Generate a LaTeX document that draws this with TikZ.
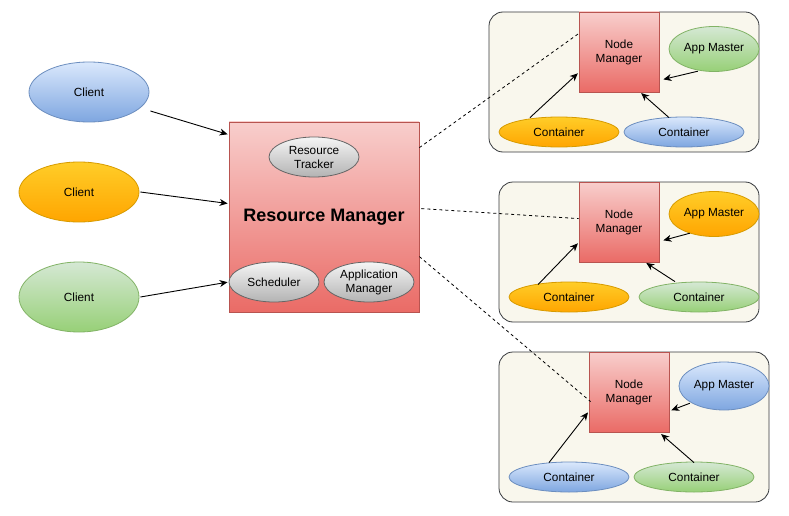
\documentclass[tikz,border=0pt]{standalone}
\usepackage{fontspec}
\setmainfont{Liberation Sans}
\usetikzlibrary{shapes.geometric,arrows.meta}
\definecolor{bluetop}{HTML}{DAE8FC}\definecolor{bluebot}{HTML}{7EA6E0}\definecolor{bluestroke}{HTML}{6C8EBF}
\definecolor{ortop}{HTML}{FFCD28}\definecolor{orbot}{HTML}{FFA500}\definecolor{orstroke}{HTML}{D79B00}
\definecolor{grtop}{HTML}{D5E8D4}\definecolor{grbot}{HTML}{97D077}\definecolor{grstroke}{HTML}{82B366}
\definecolor{redtop}{HTML}{F8CECC}\definecolor{redbot}{HTML}{EA6B66}\definecolor{redstroke}{HTML}{B85450}
\definecolor{gytop}{HTML}{F5F5F5}\definecolor{gybot}{HTML}{B3B3B3}\definecolor{gystroke}{HTML}{666666}
\definecolor{grpfill}{HTML}{F9F7ED}\definecolor{grpstroke}{HTML}{36393D}
\begin{document}
\begin{tikzpicture}[x=1pt,y=-1pt,
  every node/.style={font=\fontsize{11.8}{14}\selectfont, align=center, inner sep=0pt},
  ell/.style={ellipse, line width=0.8pt},
  blueell/.style={ell, draw=bluestroke, top color=bluetop, bottom color=bluebot},
  orell/.style={ell, draw=orstroke, top color=ortop, bottom color=orbot},
  grell/.style={ell, draw=grstroke, top color=grtop, bottom color=grbot},
  gyell/.style={ell, draw=gystroke, top color=gytop, bottom color=gybot, minimum width=90pt, minimum height=40pt},
  client/.style={minimum width=120pt},
  cont/.style={minimum width=120pt, minimum height=30pt},
  am/.style={minimum width=90pt},
  redbox/.style={rectangle, draw=redstroke, line width=0.8pt, top color=redtop, bottom color=redbot},
  nm/.style={redbox, minimum width=80pt, minimum height=80pt},
  grp/.style={draw=grpstroke, fill=grpfill, rounded corners=14pt, line width=0.8pt},
  arr/.style={-{Stealth[length=8pt,width=7pt,inset=2.5pt]}, line width=0.9pt, shorten >=1pt},
  dashline/.style={line width=0.8pt, dash pattern=on 3pt off 3pt}
]
\useasboundingbox (0,0) rectangle (789,516);
\fill[white] (0,0) rectangle (789,516);

% groups
\draw[grp] (489,12) rectangle (759,152);
\draw[grp] (499,182) rectangle (759,322);
\draw[grp] (499,352) rectangle (769,502);

% clients
\node[blueell, client, minimum height=60pt] (c1) at (89,92) {Client};
\node[orell, client, minimum height=60pt] (c2) at (79,192) {Client};
\node[grell, client, minimum height=70pt] (c3) at (79,297) {Client};

% resource manager
\node[redbox, minimum width=190pt, minimum height=190pt] (rm) at (324,217) {};
\node[font=\fontsize{18}{21}\selectfont\bfseries] (rmt) at (324,217) {Resource Manager};
\node[gyell] (rt) at (314,157) {Resource\\Tracker};
\node[gyell] (sch) at (274,282) {Scheduler};
\node[gyell] (apm) at (369,282) {Application\\Manager};

% group 1
\node[nm] (nm1) at (619,52) {Node\\Manager};
\node[grell, am, minimum height=45pt] (am1) at (714,49) {App Master};
\node[orell, cont] (k1a) at (559,132) {Container};
\node[blueell, cont] (k1b) at (684,132) {Container};

% group 2
\node[nm] (nm2) at (619,222) {Node\\Manager};
\node[orell, am, minimum height=45pt] (am2) at (714,214) {App Master};
\node[orell, cont] (k2a) at (569,297) {Container};
\node[grell, cont] (k2b) at (699,297) {Container};

% group 3
\node[nm] (nm3) at (629,392) {Node\\Manager};
\node[blueell, am, minimum height=48pt] (am3) at (724,386) {App Master};
\node[blueell, cont] (k3a) at (569,477) {Container};
\node[grell, cont] (k3b) at (694,477) {Container};

% client arrows
\draw[arr] ([xshift=1pt,yshift=-19pt]c1.east) -- ([yshift=-13pt]rm.north west);
\draw[arr] ([xshift=1pt]c2.east) -- ([yshift=-82pt]rm.north west);
\draw[arr] ([xshift=1pt]c3.east) -- (sch.west);

% dashed lines
\draw[dashline] ([yshift=-26pt]rm.north east) -- ([yshift=-22pt]nm1.north west);
\draw[dashline] ([yshift=-87pt,xshift=2pt]rm.north east) -- ([yshift=-37pt]nm2.north west);
\draw[dashline] ([yshift=-135pt]rm.north east) -- ([yshift=-50pt,xshift=2pt]nm3.north west);

% inner arrows group 1
\draw[arr] ([xshift=-29pt,yshift=-1pt]k1a.north) -- ([yshift=-61pt]nm1.north west);
\draw[arr] ([xshift=-15pt,yshift=-1pt]k1b.north) -- ([xshift=-19pt]nm1.south east);
\draw[arr] ([xshift=16pt,yshift=-6pt]am1.south west) -- ([yshift=-68pt,xshift=3pt]nm1.north east);

% inner arrows group 2
\draw[arr] ([xshift=-31pt,yshift=-3pt]k2a.north) -- ([yshift=-61pt]nm2.north west);
\draw[arr] ([xshift=-24pt]k2b.north) -- ([xshift=-14pt]nm2.south east);
\draw[arr] ([xshift=8pt,yshift=-3pt]am2.south west) -- ([yshift=-59pt,xshift=3pt]nm2.north east);

% inner arrows group 3
\draw[arr] ([xshift=-20pt,yshift=-1pt]k3a.north) -- ([yshift=-60pt]nm3.north west);
\draw[arr] ([yshift=-1pt]k3b.north) -- ([xshift=-9pt,yshift=-1pt]nm3.south east);
\draw[arr] ([xshift=-2pt]am3.south west) -- ([yshift=-59pt,xshift=1pt]nm3.north east);
\end{tikzpicture}
\end{document}
